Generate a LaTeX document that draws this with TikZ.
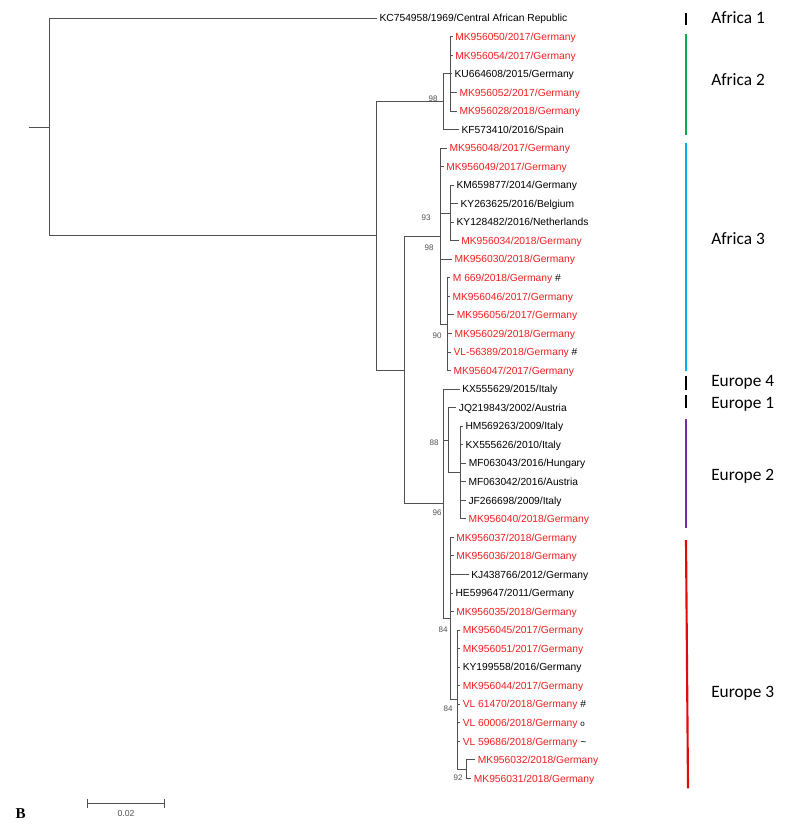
\documentclass[tikz,border=0pt]{standalone}
\usepackage{fontspec}
\setmainfont{Liberation Sans}
\newfontfamily\grpfont{Carlito}
\newfontfamily\serifB{Liberation Serif}
\definecolor{seqred}{RGB}{240,30,30}
\definecolor{grpgreen}{RGB}{0,176,80}
\definecolor{grpcyan}{RGB}{0,176,240}
\definecolor{grppurple}{RGB}{112,48,160}
\definecolor{grpred}{RGB}{228,10,10}
\definecolor{treegray}{RGB}{80,80,80}
\begin{document}
\begin{tikzpicture}[x=0.75pt,y=-0.75pt,
  br/.style={draw=treegray,line width=0.7pt},
  leaf/.style={anchor=west,inner xsep=1.8pt,inner ysep=0pt,text height=6.5pt,text depth=1pt,font=\fontsize{7.7}{8}\selectfont},
  rleaf/.style={leaf,text=seqred},
  boot/.style={inner sep=0pt,font=\fontsize{6}{7}\selectfont,text=treegray},
  grp/.style={anchor=base west,inner sep=0pt,font=\grpfont\fontsize{13}{15}\selectfont},
  bar/.style={line width=1.6pt}]
\useasboundingbox (0,0) rectangle (789,827);

% leaves
\node[leaf]  (l1)  at (376.9,18.3)   {KC754958/1969/Central African Republic};
\node[rleaf] (l2)  at (452.6,36.84)  {MK956050/2017/Germany};
\node[rleaf] (l3)  at (452.6,55.38)  {MK956054/2017/Germany};
\node[leaf]  (l4)  at (451.9,73.92)  {KU664608/2015/Germany};
\node[rleaf] (l5)  at (456.9,92.46)  {MK956052/2017/Germany};
\node[rleaf] (l6)  at (456.9,111.0)  {MK956028/2018/Germany};
\node[leaf]  (l7)  at (458.9,129.54) {KF573410/2016/Spain};
\node[rleaf] (l8)  at (446.9,148.08) {MK956048/2017/Germany};
\node[rleaf] (l9)  at (443.6,166.62) {MK956049/2017/Germany};
\node[leaf]  (l10) at (453.9,185.16) {KM659877/2014/Germany};
\node[leaf]  (l11) at (457.9,203.7)  {KY263625/2016/Belgium};
\node[leaf]  (l12) at (453.9,222.24) {KY128482/2016/Netherlands};
\node[rleaf] (l13) at (458.6,240.78) {MK956034/2018/Germany};
\node[rleaf] (l14) at (451.9,259.32) {MK956030/2018/Germany};
\node[rleaf] (l15) at (450.2,277.86) {M 669/2018/Germany {\color{black}\#}};
\node[rleaf] (l16) at (449.9,296.4)  {MK956046/2017/Germany};
\node[rleaf] (l17) at (454.2,314.94) {MK956056/2017/Germany};
\node[rleaf] (l18) at (451.9,333.48) {MK956029/2018/Germany};
\node[rleaf] (l19) at (450.9,352.02) {VL-56389/2018/Germany {\color{black}\#}};
\node[rleaf] (l20) at (450.9,370.56) {MK956047/2017/Germany};
\node[leaf]  (l21) at (459.6,389.1)  {KX555629/2015/Italy};
\node[leaf]  (l22) at (456.2,407.64) {JQ219843/2002/Austria};
\node[leaf]  (l23) at (462.9,426.18) {HM569263/2009/Italy};
\node[leaf]  (l24) at (462.9,444.72) {KX555626/2010/Italy};
\node[leaf]  (l25) at (466.2,463.26) {MF063043/2016/Hungary};
\node[leaf]  (l26) at (465.9,481.8)  {MF063042/2016/Austria};
\node[leaf]  (l27) at (465.9,500.34) {JF266698/2009/Italy};
\node[rleaf] (l28) at (465.9,518.88) {MK956040/2018/Germany};
\node[rleaf] (l29) at (453.6,537.42) {MK956037/2018/Germany};
\node[rleaf] (l30) at (453.6,555.96) {MK956036/2018/Germany};
\node[leaf]  (l31) at (468.6,574.5)  {KJ438766/2012/Germany};
\node[leaf]  (l32) at (452.9,593.04) {HE599647/2011/Germany};
\node[rleaf] (l33) at (453.6,611.58) {MK956035/2018/Germany};
\node[rleaf] (l34) at (460.1,630.12) {MK956045/2017/Germany};
\node[rleaf] (l35) at (460.1,648.66) {MK956051/2017/Germany};
\node[leaf]  (l36) at (460.1,667.2)  {KY199558/2016/Germany};
\node[rleaf] (l37) at (460.1,685.74) {MK956044/2017/Germany};
\node[rleaf] (l38) at (460.1,704.28) {VL 61470/2018/Germany {\color{black}\#}};
\node[rleaf] (l39) at (460.1,722.82) {VL 60006/2018/Germany {\color{black}\fontsize{6}{6}\selectfont o}};
\node[rleaf] (l40) at (460.1,741.36) {VL 59686/2018/Germany {\color{black}\textasciitilde}};
\node[rleaf] (l41) at (475.2,759.9)  {MK956032/2018/Germany};
\node[rleaf] (l42) at (471.2,778.44) {MK956031/2018/Germany};

% internal nodes
\coordinate (stub) at (29,127.08);
\coordinate (root) at (49,127.08);
\coordinate (nA)   at (376,235.86);
\coordinate (nA2)  at (443,101.73);
\coordinate (nA2i) at (450,73.92);
\coordinate (nB)   at (404,369.98);
\coordinate (nA3)  at (440,236.15);
\coordinate (n93)  at (450,212.97);
\coordinate (n90)  at (447,324.21);
\coordinate (nE)   at (443,503.8);
\coordinate (n88)  at (448,440.09);
\coordinate (nE2)  at (460,472.53);
\coordinate (nE3)  at (450,618.53);
\coordinate (n84)  at (457,699.65);
\coordinate (n92)  at (466.7,769.17);

% branches
\draw[br] (stub) -- (root);
\draw[br] (root) |- (l1.west);
\draw[br] (root) |- (nA);
\draw[br] (nA) |- (nA2);
\draw[br] (nA) |- (nB);
\draw[br] (nA2) |- (nA2i);
\draw[br] (nA2) |- (l7.west);
\foreach \i in {2,...,6} \draw[br] (nA2i) |- (l\i.west);
\draw[br] (nB) |- (nA3);
\draw[br] (nB) |- (nE);
\foreach \i in {8,9,14} \draw[br] (nA3) |- (l\i.west);
\draw[br] (nA3) |- (n93);
\draw[br] (nA3) |- (n90);
\foreach \i in {10,...,13} \draw[br] (n93) |- (l\i.west);
\foreach \i in {15,...,20} \draw[br] (n90) |- (l\i.west);
\draw[br] (nE) |- (l21.west);
\draw[br] (nE) |- (n88);
\draw[br] (nE) |- (nE3);
\draw[br] (n88) |- (l22.west);
\draw[br] (n88) |- (nE2);
\foreach \i in {23,...,28} \draw[br] (nE2) |- (l\i.west);
\foreach \i in {29,...,33} \draw[br] (nE3) |- (l\i.west);
\draw[br] (nE3) |- (n84);
\foreach \i in {34,...,40} \draw[br] (n84) |- (l\i.west);
\draw[br] (n84) |- (n92);
\foreach \i in {41,42} \draw[br] (n92) |- (l\i.west);

% bootstrap values
\node[boot] (b1) at (433,99)    {98};
\node[boot] (b2) at (426,218)   {93};
\node[boot] (b3) at (429,248)   {98};
\node[boot] (b4) at (437,336)   {90};
\node[boot] (b5) at (434,443)   {88};
\node[boot] (b6) at (437,513)   {96};
\node[boot] (b7) at (443,630)   {84};
\node[boot] (b8) at (448,709)   {84};
\node[boot] (b9) at (458,778)   {92};

% group bars
\draw[bar,black]     (686,12.7) -- (686,25);
\draw[bar,grpgreen]  (686,34.3) -- (686,135);
\draw[bar,grpcyan]   (686,142.7) -- (686,370.7);
\draw[bar,black]     (686,376) -- (686,390);
\draw[bar,black]     (686,395) -- (686,408.3);
\draw[bar,grppurple] (686,419.3) -- (686,528.3);
\draw[bar,grpred]    (686,540) -- (688,788.3);

% group labels
\node[grp] (g1) at (711,23.3)  {Africa 1};
\node[grp] (g2) at (711,85.7)  {Africa 2};
\node[grp] (g3) at (711,244.3) {Africa 3};
\node[grp] (g4) at (711,386)   {Europe 4};
\node[grp] (g5) at (711,408.3) {Europe 1};
\node[grp] (g6) at (711,480.7) {Europe 2};
\node[grp] (g7) at (711,697.7) {Europe 3};

% scale bar
\coordinate (sb1) at (87.3,803.5);
\coordinate (sb2) at (164.3,803.5);
\draw[br] (sb1) -- (sb2);
\draw[br] ([yshift=-3.5pt]sb1) -- ([yshift=3.5pt]sb1);
\draw[br] ([yshift=-3.5pt]sb2) -- ([yshift=3.5pt]sb2);
\node[inner sep=0pt,font=\fontsize{6.5}{7}\selectfont,text=treegray] (sbl) at (126,813.5) {0.02};

% panel letter
\node[inner sep=0pt,font=\serifB\bfseries\fontsize{11.3}{12}\selectfont] (pB) at (20.7,813.5) {B};
\end{tikzpicture}
\end{document}
